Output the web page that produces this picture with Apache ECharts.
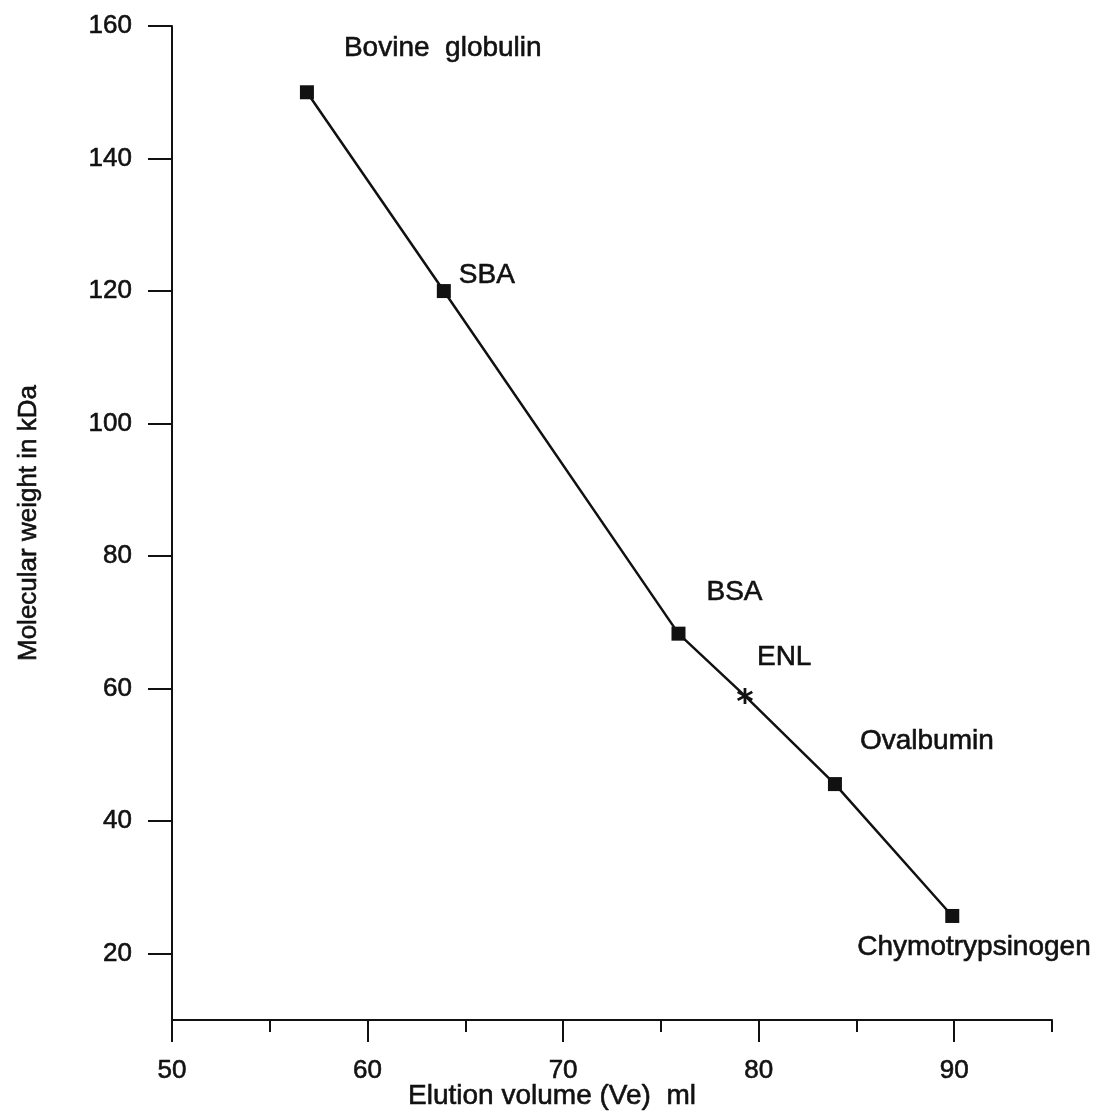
<!DOCTYPE html>
<html>
<head>
<meta charset="utf-8">
<title>Molecular weight vs elution volume</title>
<script src="https://cdn.jsdelivr.net/npm/echarts@6/dist/echarts.min.js"></script>
<style>
  html, body { margin: 0; padding: 0; background: #fff; }
  #chart { width: 1099px; height: 1115px; }
</style>
</head>
<body>
<div id="chart"></div>
<script>
// Calibration proteins plus the unknown (ENL) on the gel-filtration column
const proteinNames = ['Bovine  globulin', 'SBA', 'BSA', 'ENL', 'Ovalbumin', 'Chymotrypsinogen'];
const elutionVolume = [56.9, 63.9, 75.9, 79.3, 83.9, 89.9];   // ml
const molecularWeight = [150, 120, 68.3, 58.9, 45.6, 25.7];    // kDa

const xMajorTicks = [50, 60, 70, 80, 90];
const xMinorTicks = [55, 65, 75, 85, 95];
const yTicks = [20, 40, 60, 80, 100, 120, 140, 160];

// Label placement around each marker (pixels from the marker centre)
const labelOffsets = {
  'Bovine  globulin': [37, -44],
  'SBA': [15, -16],
  'BSA': [28, -41],
  'ENL': [12, -39],
  'Ovalbumin': [25, -43],
  'Chymotrypsinogen': [-95, 31]
};

const FONT = "'Liberation Sans', Arial, sans-serif";
const INK = '#111';
// slightly heavier strokes for all text
const heavy = { textBorderColor: INK, textBorderWidth: 0.6 };
const asterisk = 'path://M-1.3,-8L1.3,-8L1.3,8L-1.3,8Z' +
  'M6.278,-5.126L7.578,-2.874L-6.278,5.126L-7.578,2.874Z' +
  'M-7.578,-2.874L-6.278,-5.126L7.578,2.874L6.278,5.126Z';

const seriesData = elutionVolume.map((v, i) => {
  const name = proteinNames[i];
  const isUnknown = name === 'ENL';
  return {
    name: name,
    value: [v, molecularWeight[i]],
    symbol: isUnknown ? asterisk : 'rect',
    symbolSize: isUnknown ? 16 : 14,
    label: {
      show: true,
      position: 'inside',
      align: 'left',
      verticalAlign: 'middle',
      offset: labelOffsets[name],
      formatter: name
    }
  };
});

const chart = echarts.init(document.getElementById('chart'), null, { renderer: 'canvas' });
chart.setOption({
  animation: false,
  backgroundColor: '#fff',
  grid: { left: 172, right: 47, top: 26, bottom: 95, outerBoundsMode: 'none', containLabel: false },
  xAxis: [
    {
      type: 'value',
      min: 50,
      max: 95,
      name: 'Elution volume (Ve)  ml',
      nameLocation: 'middle',
      nameGap: 62,
      nameMoveOverlap: false,
      nameTextStyle: Object.assign({ fontFamily: FONT, fontSize: 28, color: INK, padding: [0, 120, 0, 0] }, heavy),
      axisLine: { show: true, onZero: false, lineStyle: { color: INK, width: 2 } },
      axisTick: { show: true, customValues: xMajorTicks, length: 22, lineStyle: { color: INK, width: 2 } },
      axisLabel: Object.assign({ customValues: xMajorTicks, margin: 38, fontFamily: FONT, fontSize: 26, color: INK }, heavy),
      splitLine: { show: false }
    },
    {
      type: 'value',
      min: 50,
      max: 95,
      position: 'bottom',
      axisLine: { show: false },
      axisTick: { show: true, customValues: xMinorTicks, length: 12, lineStyle: { color: INK, width: 2 } },
      axisLabel: { show: false },
      splitLine: { show: false }
    }
  ],
  yAxis: {
    type: 'value',
    min: 10,
    max: 160,
    name: 'Molecular weight in kDa',
    nameLocation: 'middle',
    nameGap: 130,
    nameMoveOverlap: false,
    nameTextStyle: Object.assign({ fontFamily: FONT, fontSize: 26, color: INK }, heavy),
    axisLine: { show: true, onZero: false, lineStyle: { color: INK, width: 2 } },
    axisTick: { show: true, customValues: yTicks, length: 24, lineStyle: { color: INK, width: 2 } },
    axisLabel: Object.assign({ customValues: yTicks, margin: 40, fontFamily: FONT, fontSize: 26, color: INK }, heavy),
    splitLine: { show: false }
  },
  series: [{
    type: 'line',
    xAxisIndex: 0,
    data: seriesData,
    lineStyle: { color: INK, width: 2.5 },
    itemStyle: { color: INK },
    label: Object.assign({ fontFamily: FONT, fontSize: 28, color: INK }, heavy)
  }]
});
</script>
</body>
</html>
